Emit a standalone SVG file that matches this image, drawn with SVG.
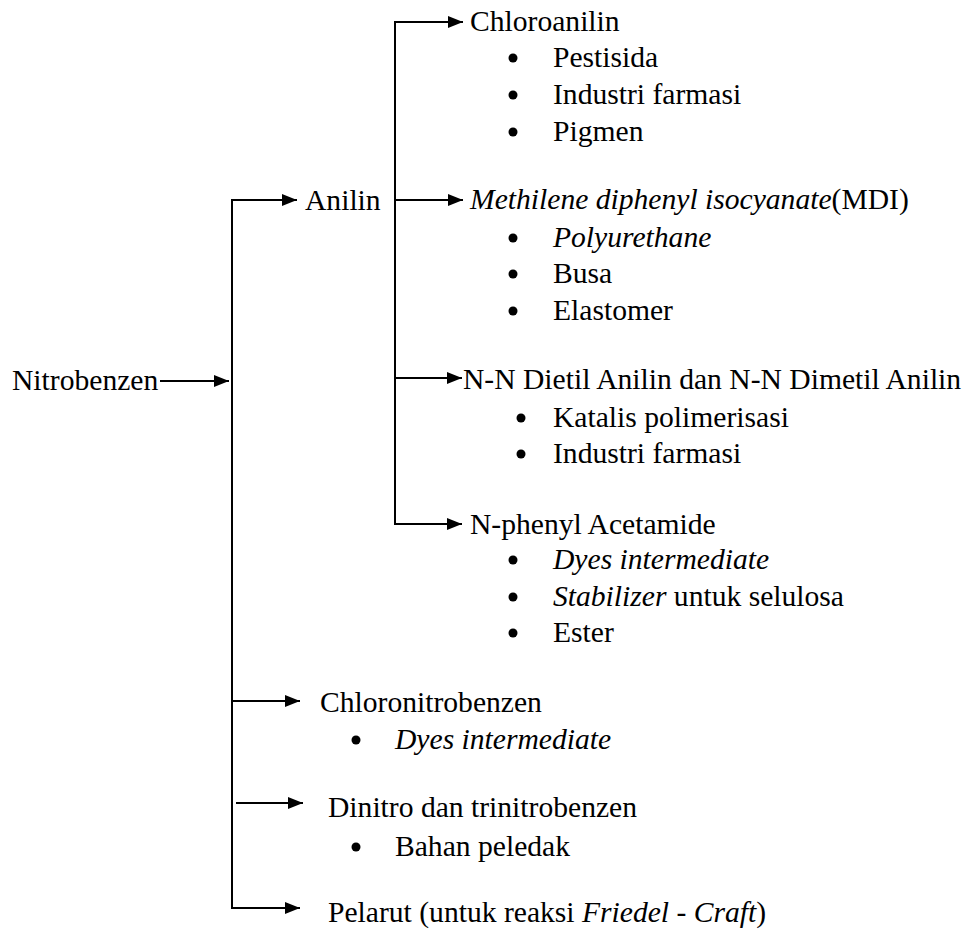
<svg xmlns="http://www.w3.org/2000/svg" width="977" height="930" viewBox="0 0 977 930">
<style>
text{font-family:"Liberation Serif","Times New Roman",serif;font-size:29.6px;fill:#000}
.i{font-style:italic}
.ln{stroke:#000;stroke-width:2;fill:none}
.b{fill:#000}
</style>
<defs>
<marker id="ah" markerUnits="userSpaceOnUse" markerWidth="15" markerHeight="12" refX="15" refY="6" orient="auto">
<path d="M0,0 L15,6 L0,12 Z" fill="#000"/>
</marker>
</defs>
<rect width="977" height="930" fill="#fff"/>
<g id="connectors">
<line class="ln" x1="160" y1="381" x2="229" y2="381" marker-end="url(#ah)"/>
<line class="ln" x1="232" y1="199" x2="232" y2="909"/>
<line class="ln" x1="231" y1="200" x2="297" y2="200" marker-end="url(#ah)"/>
<line class="ln" x1="231" y1="701" x2="300" y2="701" marker-end="url(#ah)"/>
<line class="ln" x1="236" y1="803" x2="303" y2="803" marker-end="url(#ah)"/>
<line class="ln" x1="231" y1="908" x2="300" y2="908" marker-end="url(#ah)"/>
<line class="ln" x1="395" y1="21" x2="395" y2="523"/>
<line class="ln" x1="394" y1="22" x2="463" y2="22" marker-end="url(#ah)"/>
<line class="ln" x1="395" y1="200" x2="463" y2="200" marker-end="url(#ah)"/>
<line class="ln" x1="395" y1="378" x2="462" y2="378" marker-end="url(#ah)"/>
<line class="ln" x1="394" y1="524" x2="462" y2="524" marker-end="url(#ah)"/>
</g>
<g id="nitrobenzen"><text x="12" y="390">Nitrobenzen</text></g>
<g id="anilin"><text x="305" y="210">Anilin</text></g>
<g id="chloroanilin">
<text x="470" y="31">Chloroanilin</text>
<circle class="b" cx="513" cy="58" r="4.5"/><text x="553" y="67">Pestisida</text>
<circle class="b" cx="513" cy="95" r="4.5"/><text x="553" y="104">Industri farmasi</text>
<circle class="b" cx="513" cy="132" r="4.5"/><text x="553" y="141">Pigmen</text>
</g>
<g id="mdi">
<text x="470" y="209"><tspan class="i">Methilene diphenyl isocyanate</tspan>(MDI)</text>
<circle class="b" cx="513" cy="238" r="4.5"/><text x="553" y="247" class="i">Polyurethane</text>
<circle class="b" cx="513" cy="274" r="4.5"/><text x="553" y="283">Busa</text>
<circle class="b" cx="513" cy="311" r="4.5"/><text x="553" y="320">Elastomer</text>
</g>
<g id="nn-dietil">
<text x="463" y="389">N-N Dietil Anilin dan N-N Dimetil Anilin</text>
<circle class="b" cx="521" cy="418" r="4.5"/><text x="553" y="427">Katalis polimerisasi</text>
<circle class="b" cx="521" cy="454" r="4.5"/><text x="553" y="463">Industri farmasi</text>
</g>
<g id="n-phenyl">
<text x="470" y="534">N-phenyl Acetamide</text>
<circle class="b" cx="513" cy="560" r="4.5"/><text x="553" y="569" class="i">Dyes intermediate</text>
<circle class="b" cx="513" cy="597" r="4.5"/><text x="553" y="606"><tspan class="i">Stabilizer</tspan> untuk selulosa</text>
<circle class="b" cx="513" cy="633" r="4.5"/><text x="553" y="642">Ester</text>
</g>
<g id="chloronitrobenzen">
<text x="320" y="712">Chloronitrobenzen</text>
<circle class="b" cx="356" cy="740" r="4.5"/><text x="395" y="749" class="i">Dyes intermediate</text>
</g>
<g id="dinitro">
<text x="328" y="817">Dinitro dan trinitrobenzen</text>
<circle class="b" cx="356" cy="847" r="4.5"/><text x="395" y="856">Bahan peledak</text>
</g>
<g id="pelarut">
<text x="328" y="922">Pelarut (untuk reaksi <tspan class="i">Friedel</tspan> - <tspan class="i">Craft</tspan>)</text>
</g>
</svg>
